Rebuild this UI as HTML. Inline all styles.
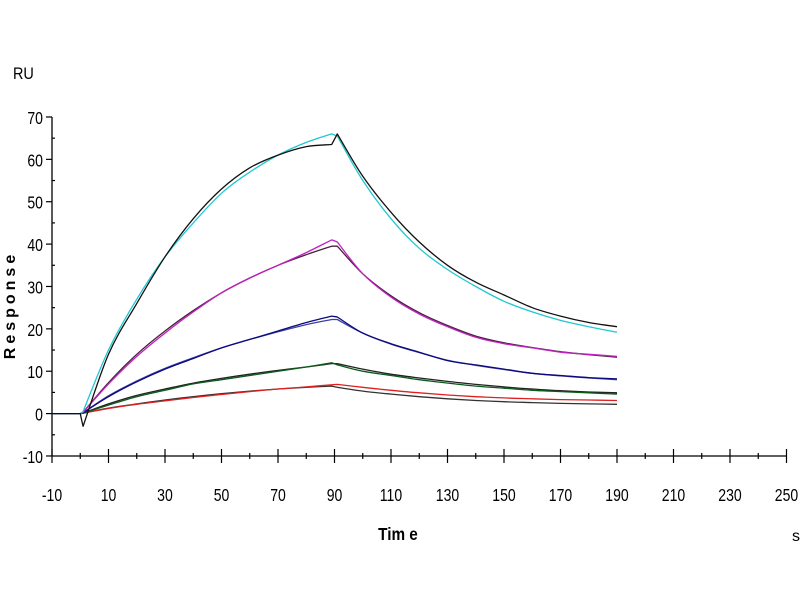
<!DOCTYPE html>
<html><head><meta charset="utf-8"><style>
body{margin:0;background:#fff;}
svg text{font-family:"Liberation Sans",sans-serif;}
</style></head><body>
<svg id="chart" width="800" height="600" xmlns="http://www.w3.org/2000/svg">
<text x="13" y="79" font-size="17" transform="scale(0.85,1)" transform-origin="13 79">RU</text>
<text x="0" y="0" font-size="16" font-weight="bold" letter-spacing="4" text-anchor="middle" transform="translate(15,305) rotate(-90)">Response</text>
<text x="398" y="540" font-size="18" font-weight="bold" text-anchor="middle" transform="scale(0.85,1)" transform-origin="398 540">Tim e</text>
<text x="792" y="541" font-size="16">s</text>
<g id="axes"></g>
<g id="series"></g>
</svg>
<script>
const times=[-10,0,1,10,20,30,40,50,60,70,80,89,91,100,110,120,130,140,150,160,170,180,190];
const xTicks=[-10,10,30,50,70,90,110,130,150,170,190,210,230,250];
const yTicks=[-10,0,10,20,30,40,50,60,70];
const cyanVals=[0,0,0.5,15,27,37,45,52,57,61,64,66,65.5,55,46,39,34,30,26.5,24,22,20.5,19.2];
const blackTopVals=[0,0,-3,14,26,37,46,53,58,61,63,63.5,66,56,47.5,40.5,35,31,28,25,23,21.5,20.5];
const magentaVals=[0,0,0.3,7,13.5,19,24,28.5,32,35,38,41,40.5,33,27.5,23.5,20.5,18,16.5,15.5,14.5,14,13.5];
const purpleFitVals=[0,0,0.3,7.3,14,19.5,24.3,28.5,32,35,37.5,39.5,39.5,33,27.8,23.8,20.8,18.3,16.7,15.6,14.6,13.9,13.3];
const blueVals=[0,0,0.2,4,7.5,10.5,13,15.5,17.5,19.5,21.5,23,22.8,19,16.5,14.5,12.5,11.5,10.5,9.5,9,8.5,8.2];
const navyFitVals=[0,0,0.2,4.2,7.7,10.7,13.2,15.5,17.5,19.3,21,22.2,22.2,19,16.4,14.4,12.6,11.4,10.4,9.5,8.9,8.4,8];
const greenVals=[0,0,0.1,2,4,5.5,7,8,9,10,11,12,11.5,10,9,8,7.2,6.5,6,5.5,5.2,4.9,4.6];
const greenFitVals=[0,0,0.1,2.3,4.3,5.8,7.2,8.3,9.3,10.2,11,11.8,11.8,10.5,9.3,8.4,7.6,6.9,6.3,5.8,5.4,5.1,4.9];
const redVals=[0,0,0.1,1.2,2.2,3,3.8,4.5,5.2,5.8,6.3,6.8,6.9,6.2,5.5,4.9,4.4,4,3.7,3.5,3.3,3.2,3.1];
const redFitVals=[0,0,0.1,1.3,2.3,3.2,4,4.7,5.3,5.8,6.2,6.5,6.2,5.3,4.6,4,3.5,3.1,2.8,2.6,2.4,2.3,2.2];

const NS="http://www.w3.org/2000/svg";
const X=t=>52+(t+10)*2.825;
const Y=v=>413.6-v*4.2375;
const axes=document.getElementById('axes');
function el(tag,attrs,parent){const e=document.createElementNS(NS,tag);for(const k in attrs)e.setAttribute(k,attrs[k]);parent.appendChild(e);return e;}
let l=el('line',{x1:X(-10),y1:Y(70),x2:X(-10),y2:Y(-10),stroke:'#000','stroke-width':1.3},axes);


l=el('line',{x1:X(-10),y1:Y(-10),x2:X(250),y2:Y(-10),stroke:'#000','stroke-width':1.3},axes);


for(let t=-10;t<=250;t+=10){
  const major=xTicks.includes(t);
  el('line',{x1:X(t),y1:Y(-10)-(major?7:3),x2:X(t),y2:Y(-10)+(major?7:3),stroke:'#000','stroke-width':1.2},axes);
}
xTicks.forEach(t=>{
  const tx=el('text',{x:X(t),y:Y(-10)+45,'font-size':18,'text-anchor':'middle',transform:'scale(0.78,1)','transform-origin':X(t)+' '+(Y(-10)+45)},axes);
  tx.textContent=t;
  
  
});
for(let v=-10;v<=70;v+=5){
  const major=yTicks.includes(v);
  el('line',{x1:X(-10)-(major?6:0),y1:Y(v),x2:X(-10)+(major?0:3),y2:Y(v),stroke:'#000','stroke-width':1.2},axes);
}
yTicks.forEach(v=>{
  const tx=el('text',{x:X(-10)-9,y:Y(v)+7,'font-size':18,'text-anchor':'end',transform:'scale(0.78,1)','transform-origin':(X(-10)-9)+' '+(Y(v)+7)},axes);
  tx.textContent=v;
  
  
});
function smoothPath(pts){
  // Catmull-Rom within segments, keeping corners at indices 1,2 and 11,12 sharp
  const sharp=new Set([1,2,11,12]);
  let d='M'+pts[0][0].toFixed(1)+','+pts[0][1].toFixed(1);
  for(let i=0;i<pts.length-1;i++){
    const p0=pts[(i>0&&!sharp.has(i))?i-1:i],p1=pts[i],p2=pts[i+1],p3=pts[(i+2<pts.length&&!sharp.has(i+1))?i+2:i+1];
    const c1=[p1[0]+(p2[0]-p0[0])/6,p1[1]+(p2[1]-p0[1])/6];
    const c2=[p2[0]-(p3[0]-p1[0])/6,p2[1]-(p3[1]-p1[1])/6];
    d+=' C'+c1[0].toFixed(1)+','+c1[1].toFixed(1)+' '+c2[0].toFixed(1)+','+c2[1].toFixed(1)+' '+p2[0].toFixed(1)+','+p2[1].toFixed(1);
  }
  return d;
}
const seriesList=[
 ['black-fit-green',greenFitVals,'#222'],['red-fit',redFitVals,'#333'],
 ['red-data',redVals,'#e02020'],['green-data',greenVals,'#0a5a1a'],
 ['navy-fit',navyFitVals,'#4040a0'],['blue-data',blueVals,'#0a0a80'],
 ['purple-fit',purpleFitVals,'#4a2040'],['magenta-data',magentaVals,'#c020c0'],
 ['cyan-data',cyanVals,'#20c8d0'],['black-top',blackTopVals,'#111']];
const sg=document.getElementById('series');
seriesList.forEach(([name,vals,col])=>{
  const pts=times.map((t,i)=>[X(t),Y(vals[i])]);
  const p=el('path',{d:smoothPath(pts),fill:'none',stroke:col,'stroke-width':1.3,'stroke-linejoin':'round'},sg);
  
  
});
</script>
</body></html>
